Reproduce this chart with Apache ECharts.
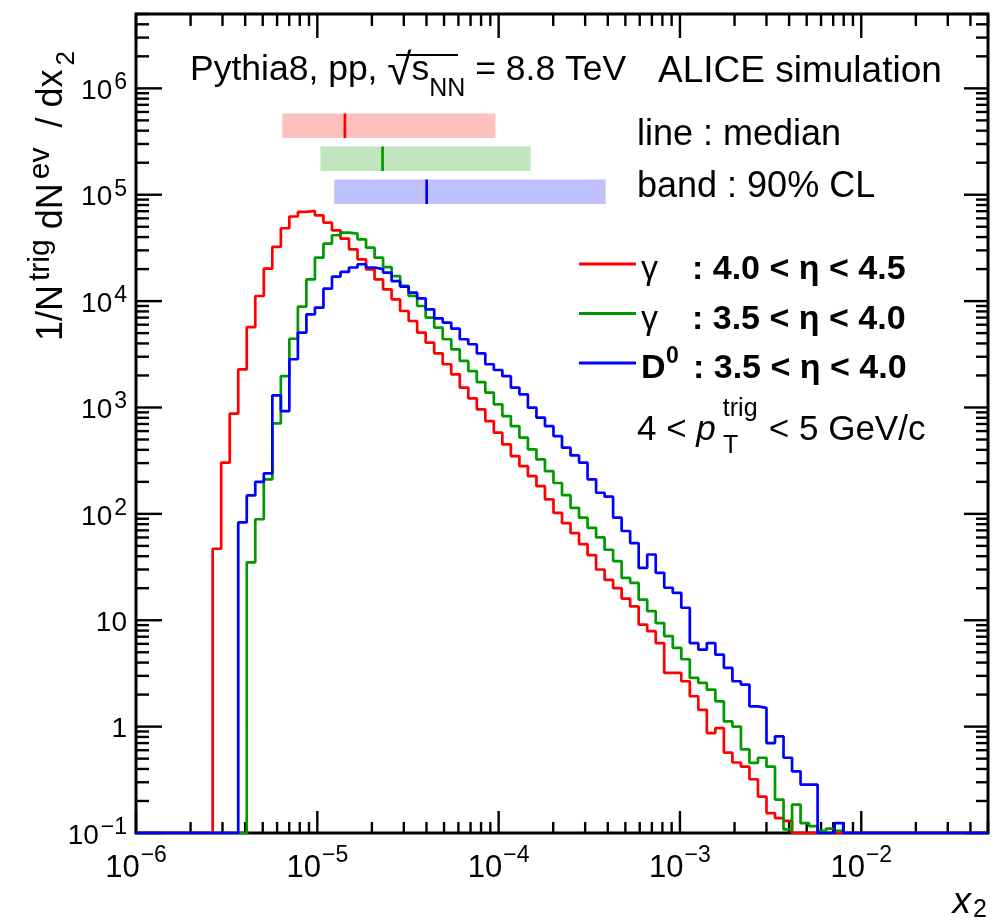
<!DOCTYPE html>
<html>
<head>
<meta charset="utf-8">
<script src="https://cdn.jsdelivr.net/npm/echarts@6/dist/echarts.min.js"></script>
<style>
html,body{margin:0;padding:0;background:#ffffff;}
#chart{width:994px;height:922px;}
</style>
</head>
<body>
<div id="chart"></div>
<script>
// ---------------- data ----------------
// histogram binning: 100 log-uniform bins from 1e-6 to 0.05
const binLow = 1e-6;
const binHigh = 0.05;
const nBins = 100;

// gamma, 4.0 < eta < 4.5 (red)
const gammaFwd = [
  0,0,0,0,0,0,0,0,0,47,
  303,875,2280,5700,11170,20200,32300,48400,62400,68900,
  70500,64100,54700,46300,38700,30700,24700,19900,16000,12900,
  10400,8070,6500,5060,4070,3230,2550,2050,1540,1220,
  960,745,580,450,349,281,226,182,137,102,
  82,66,52,41,30,24,20,16,13.5,9.1,
  7.9,6.1,3.2,3.2,2.67,1.93,1.44,0.87,0.97,0.57,
  0.46,0.42,0.32,0.22,0.154,0.138,0.13,0,0,0,
  0,0,0,0,0,0,0,0,0,0,
  0,0,0,0,0,0,0,0,0,0
];
// gamma, 3.5 < eta < 4.0 (green)
const gammaMid = [
  0,0,0,0,0,0,0,0,0,0,
  0,0,0,35,89,211,708,1970,4430,8870,
  16000,25600,34700,41600,44100,43100,38100,31800,25600,20900,
  17200,13900,11200,9000,7000,5630,4380,3520,2740,2200,
  1730,1380,1070,830,668,520,404,325,252,195,
  150,114,92,74,60,46,36,25,22.5,15.6,
  12.2,9.4,7.1,5.5,4.3,2.87,2.58,2.23,1.73,1.12,
  1.0,0.61,0.456,0.51,0.42,0.206,0.108,0.185,0.124,0.116,
  0.105,0.11,0.105,0,0,0,0,0,0,0,
  0,0,0,0,0,0,0,0,0,0
];
// D0, 3.5 < eta < 4.0 (blue)
const dMesonMid = [
  0,0,0,0,0,0,0,0,0,0,
  0,0,83,149,200,240,1300,925,2840,5060,
  7520,8690,13100,17000,18800,20700,22200,20700,20000,18500,
  15400,13700,12000,10600,8380,6890,6280,5510,4380,3930,
  3230,2550,2250,1970,1535,1330,995,802,668,538,
  419,354,303,211,158,145,92,69,53,31,
  41.5,27.9,20.2,18.1,13.1,6.1,5.3,6.1,4.75,3.56,
  2.67,2.48,1.55,1.5,0.70,0.81,0.51,0.38,0.285,0.285,
  0,0,0.124,0,0,0,0,0,0,0,
  0,0,0,0,0,0,0,0,0,0
];

// median and 90% CL bands (red, green, blue)
const bandLow    = [6.41e-6, 1.04e-5, 1.24e-5];
const bandHigh   = [9.6e-5, 1.50e-4, 3.89e-4];
const bandMedian = [1.42e-5, 2.29e-5, 4.01e-5];

const legendLabels = ['γ : 4.0 < η < 4.5', 'γ : 3.5 < η < 4.0', 'D0 : 3.5 < η < 4.0'];

// axis ranges
const xMin = 1e-6, xMax = 0.05;
const yMin = 0.1, yMax = 5e6;

// ---------------- styles ----------------
const FONT = '"Liberation Sans", Arial, Helvetica, sans-serif';
const lineColors = ['#ff0000', '#009900', '#0000ff'];
const bandColors = ['#ffc0c0', '#c0e6c0', '#c0c0ff'];

// ---------------- build ----------------
const logLo = Math.log10(binLow), logHi = Math.log10(binHigh);
const edges = [];
for (let i = 0; i <= nBins; i++) edges.push(Math.pow(10, logLo + (logHi - logLo) * i / nBins));

function histPoints(vals) {
  const pts = [];
  for (let i = 0; i < nBins; i++) pts.push([edges[i], Math.max(vals[i], yMin)]);
  pts.push([edges[nBins], Math.max(vals[nBins - 1], yMin)]);
  return pts;
}

function isDecade(v) {
  const l = Math.log10(v);
  return Math.abs(l - Math.round(l)) < 1e-6;
}
function expStr(e) { return (e < 0 ? '−' : '') + Math.abs(e); }

function fmtY(v) {
  if (!isDecade(v)) return '';
  const e = Math.round(Math.log10(v));
  if (e === 0) return '{b|1}';
  if (e === 1) return '{b|10}';
  return '{b|10}{s|' + expStr(e) + '}';
}
function fmtX(v) {
  if (!isDecade(v)) return '';
  const e = Math.round(Math.log10(v));
  return '{b|10}{s|' + expStr(e) + '}';
}

// tick lists (axis decoration)
const xTicks = [], yTicks = [];
for (let e = -6; e <= -2; e++) for (let k = 1; k <= 9; k++) { const v = k * Math.pow(10, e); if (v <= xMax * 1.0001) xTicks.push([v, k === 1]); }
for (let e = -1; e <= 6; e++) for (let k = 1; k <= 9; k++) { const v = k * Math.pow(10, e); if (v <= yMax * 1.0001) yTicks.push([v, k === 1]); }

const chart = echarts.init(document.getElementById('chart'), null, {renderer: 'canvas'});

const histSeries = [gammaFwd, gammaMid, dMesonMid].map((vals, i) => ({
  name: legendLabels[i],
  type: 'line',
  step: 'end',
  symbol: 'none',
  data: histPoints(vals),
  lineStyle: {color: lineColors[i], width: 2.7},
  itemStyle: {color: lineColors[i]},
  z: 5 + i,
  animation: false
}));

const tickSeries = {
  type: 'custom',
  silent: true,
  clip: false,
  z: 4,
  data: [[xMin, yMin]],
  renderItem: function (params, api) {
    const cs = params.coordSys;
    const L = cs.x, R = cs.x + cs.width, T = cs.y, B = cs.y + cs.height;
    const st = {stroke: '#000', lineWidth: 2.4};
    const ch = [];
    xTicks.forEach(([v, major]) => {
      const px = api.coord([v, yMin])[0];
      ch.push({type: 'line', shape: {x1: px, y1: B, x2: px, y2: B - (major ? 22 : 11)}, style: st});
      ch.push({type: 'line', shape: {x1: px, y1: T, x2: px, y2: T + (major ? 24 : 12)}, style: st});
    });
    yTicks.forEach(([v, major]) => {
      const py = api.coord([xMin, v])[1];
      ch.push({type: 'line', shape: {x1: L, y1: py, x2: L + (major ? 26 : 13), y2: py}, style: st});
      ch.push({type: 'line', shape: {x1: R, y1: py, x2: R - (major ? 24 : 12), y2: py}, style: st});
    });
    return {type: 'group', children: ch};
  }
};

const bandSeries = {
  type: 'custom',
  silent: true,
  clip: false,
  z: 3,
  data: bandLow.map((lo, i) => [lo, bandHigh[i], bandMedian[i], i]),
  renderItem: function (params, api) {
    const cs = params.coordSys;
    const i = api.value(3);
    const x0 = api.coord([api.value(0), yMin])[0];
    const x1 = api.coord([api.value(1), yMin])[0];
    const xm = api.coord([api.value(2), yMin])[0];
    const top = cs.y + 99.5 + i * 33;
    const h = 24.5;
    return {type: 'group', children: [
      {type: 'rect', shape: {x: x0, y: top, width: x1 - x0, height: h}, style: {fill: bandColors[i]}},
      {type: 'line', shape: {x1: xm, y1: top, x2: xm, y2: top + h}, style: {stroke: lineColors[i], lineWidth: 2.7}}
    ]};
  }
};

const labelRichY = {
  b: {fontFamily: FONT, fontSize: 28, color: '#000', lineHeight: 34, verticalAlign: 'bottom'},
  s: {fontFamily: FONT, fontSize: 23, color: '#000', verticalAlign: 'top', padding: [0, 0, 0, 2]}
};
const labelRichX = {
  b: {fontFamily: FONT, fontSize: 31, color: '#000', lineHeight: 40, verticalAlign: 'bottom'},
  s: {fontFamily: FONT, fontSize: 23, color: '#000', verticalAlign: 'top', padding: [0, 0, 0, 1]}
};

const txtMain = {fontFamily: FONT, fontSize: 36, color: '#000'};

const legendTok = {fontFamily: FONT, fontSize: 34, fontWeight: 'bold', color: '#000', lineHeight: 36, padding: [7, 0, 7, 0], verticalAlign: 'top'};
const legendRich = {
  g: Object.assign({}, legendTok, {width: 51, fontWeight: 'normal', fontSize: 34}),
  d: Object.assign({}, legendTok, {width: 25}),
  ds: {fontFamily: FONT, fontSize: 23, fontWeight: 'bold', color: '#000', lineHeight: 22, width: 27, verticalAlign: 'top'},
  t: legendTok
};

const option = {
  backgroundColor: '#ffffff',
  animation: false,
  grid: {left: 136, right: 6, top: 14, bottom: 89, show: true, borderColor: '#000', borderWidth: 3, backgroundColor: 'transparent'},
  xAxis: {
    type: 'log', logBase: 10, min: xMin, max: xMax, splitNumber: 5,
    axisLine: {show: false}, axisTick: {show: false}, splitLine: {show: false}, minorTick: {show: false},
    axisLabel: {margin: 11, formatter: fmtX, rich: labelRichX}
  },
  yAxis: {
    type: 'log', logBase: 10, min: yMin, max: yMax, splitNumber: 8,
    axisLine: {show: false}, axisTick: {show: false}, splitLine: {show: false}, minorTick: {show: false},
    axisLabel: {margin: 9, formatter: fmtY, rich: labelRichY}
  },
  legend: {
    data: legendLabels,
    orient: 'vertical',
    left: 574, top: 241,
    itemWidth: 57, itemHeight: 3, itemGap: 1.5,
    icon: 'rect',
    selectedMode: false,
    formatter: function (name) {
      const i = legendLabels.indexOf(name);
      const rest = name.split(' : ')[1];
      if (i === 2) return '{d|D}{ds|0}{t|: ' + rest + '}';
      return '{g|γ}{t|: ' + rest + '}';
    },
    textStyle: {rich: legendRich, padding: [0, 0, 0, 0]},
    itemStyle: {borderWidth: 0}
  },
  graphic: [
    {type: 'text', left: 190, top: 48, silent: true,
      style: {text: '{n|Pythia8, pp, }{r|√}{n|s}{sub|NN}{n| = 8.8 TeV}', rich: {
        n: {fontFamily: FONT, fontSize: 35.5, color: '#000', lineHeight: 38, padding: [4, 0, 0, 0], verticalAlign: 'top'},
        r: {fontFamily: FONT, fontSize: 44, color: '#000', lineHeight: 44, padding: [2, 0, 0, 0], verticalAlign: 'top'},
        sub: {fontFamily: FONT, fontSize: 25, color: '#000', lineHeight: 26, padding: [29, 0, 0, 0], verticalAlign: 'top'}
      }}},
    {type: 'line', silent: true, shape: {x1: 396, y1: 55, x2: 458, y2: 55}, style: {stroke: '#000', lineWidth: 2}},
    {type: 'text', left: 658, top: 53, silent: true, style: Object.assign({text: 'ALICE simulation'}, txtMain, {fontSize: 37})},
    {type: 'text', left: 637, top: 117, silent: true, style: Object.assign({text: 'line : median'}, txtMain)},
    {type: 'text', left: 637, top: 169, silent: true, style: Object.assign({text: 'band : 90% CL'}, txtMain)},
    {type: 'text', left: 637, top: 397, silent: true,
      style: {text: '{n|4 < }{i|p}{sup|trig}{n|< 5 GeV/c}', rich: {
        n: {fontFamily: FONT, fontSize: 35, color: '#000', lineHeight: 36, padding: [16, 0, 0, 0], verticalAlign: 'top'},
        i: {fontFamily: FONT, fontSize: 35, fontStyle: 'italic', color: '#000', lineHeight: 36, padding: [16, 0, 0, 0], verticalAlign: 'top'},
        sup: {fontFamily: FONT, fontSize: 25, color: '#000', lineHeight: 26, width: 46, padding: [0, 0, 0, 7], verticalAlign: 'top'}
      }}},
    {type: 'text', left: 723, top: 434, silent: true, style: {text: 'T', fontFamily: FONT, fontSize: 25, color: '#000'}},
    {type: 'text', x: 24, y: 341, rotation: Math.PI / 2, silent: true,
      style: {text: '{n|1/N}{sup|trig}{n|dN}{sup|ev}{n| / dx}{sub|2}', align: 'left', verticalAlign: 'top', rich: {
        n: {fontFamily: FONT, fontSize: 36, color: '#000', lineHeight: 34, padding: [10, 0, 8, 0], verticalAlign: 'top'},
        sup: {fontFamily: FONT, fontSize: 30, color: '#000', lineHeight: 28, padding: [2, 10, 0, 4], verticalAlign: 'top'},
        sub: {fontFamily: FONT, fontSize: 26, color: '#000', lineHeight: 26, padding: [30, 0, 0, 4], verticalAlign: 'top'}
      }}},
    {type: 'text', right: 7, top: 884, silent: true,
      style: {text: '{x|x}{sub|2}', rich: {
        x: {fontFamily: FONT, fontSize: 37, fontStyle: 'italic', color: '#000', lineHeight: 36, verticalAlign: 'top'},
        sub: {fontFamily: FONT, fontSize: 25, color: '#000', lineHeight: 26, padding: [14, 0, 0, 2], verticalAlign: 'top'}
      }}}
  ],
  series: [bandSeries, tickSeries].concat(histSeries)
};

chart.setOption(option);
</script>
</body>
</html>
